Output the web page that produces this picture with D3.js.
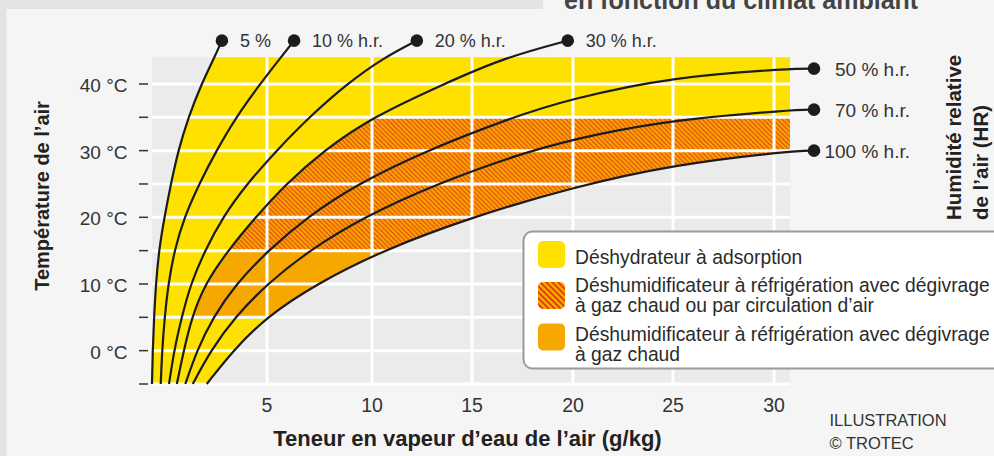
<!DOCTYPE html>
<html>
<head>
<meta charset="utf-8">
<script src="https://cdn.jsdelivr.net/npm/d3@7"></script>
<style>
  html, body { margin: 0; padding: 0; background: #f5f5f5; }
  svg { display: block; font-family: "Liberation Sans", Arial, sans-serif; }
</style>
</head>
<body>
<svg id="chart" width="994" height="456"></svg>
<script>
// each curve: [teneur en vapeur d'eau g/kg, température °C]
const rh5   = [[0.0,-5],[0.03,0],[0.09,5],[0.17,10],[0.3,15],[0.54,20],[0.82,25],[1.14,30],[1.58,35],[2.15,40],[2.7,43.9],[3.04,46.5]]
const rh10  = [[0.38,-5],[0.44,0],[0.55,5],[0.71,10],[0.97,15],[1.4,20],[2.05,25],[2.8,30],[3.65,35],[4.7,40],[5.64,43.9],[6.29,46.5]]
const rh20  = [[0.74,-5],[0.96,0],[1.29,5],[1.68,10],[2.3,15],[3.07,20],[4.12,25],[5.45,30],[7.0,35],[8.8,40],[10.57,43.9],[12.24,46.5]]
const rh30  = [[1.08,-5],[1.38,0],[1.73,5],[2.3,10],[3.3,15],[4.5,20],[5.9,25],[7.7,30],[10.0,35],[13.6,40],[16.56,43.9],[19.74,46.5]]
const rh50  = [[1.45,-5],[1.95,0],[2.65,5],[3.65,10],[5.05,15],[6.89,20],[9.3,25],[12.7,30],[17.0,35],[19.8,37.7],[25.0,41.1],[30.84,42.3],[31.98,42.3]]
const rh70  = [[1.77,-5],[2.55,0],[3.6,5],[5.0,10],[7.0,15],[9.58,20],[13.2,25],[17.8,30],[21.2,32.5],[25.0,34.6],[30.84,36.1],[31.98,36.15]]
const rh100 = [[2.38,-5],[3.52,0],[4.95,5],[7.35,10],[10.5,15],[14.95,20],[19.99,24.5],[25.0,27.9],[30.84,29.95],[31.98,30.0]]

const topCurves = [rh5, rh10, rh20, rh30]
const topLabels = ["5 %", "10 % h.r.", "20 % h.r.", "30 % h.r."]
const rightCurves = [rh50, rh70, rh100]
const rightLabels = ["50 % h.r.", "70 % h.r.", "100 % h.r."]

const xTicks = [5, 10, 15, 20, 25, 30]
const tempTicks = [-5, 0, 5, 10, 15, 20, 25, 30, 35, 40]
const tempLabels = [0, 10, 20, 30, 40]

// bands in °C
const hatchBand = [15, 35]
const orangeBand = [5, 15]

const legendLabels = [
  ["Déshydrateur à adsorption"],
  ["Déshumidificateur à réfrigération avec dégivrage", "à gaz chaud ou par circulation d’air"],
  ["Déshumidificateur à réfrigération avec dégivrage", "à gaz chaud"]
]

const yellow = "#ffe100"
const orange = "#f7a800"
const red = "#e5321c"
const ink = "#1c1c1c"

const x = d3.scaleLinear().domain([0, 5, 10, 15, 20, 25, 30]).range([152, 267, 372, 472, 573, 673, 774])
const y = d3.scaleLinear().domain([-5, 44]).range([384, 57.3])
const plot = { x0: 152, x1: 790, y0: 57.3, y1: 384 }

const svg = d3.select("#chart")

// Background
svg.append("rect").attr("width", 994).attr("height", 456).attr("fill", "#f5f5f5")
svg.append("rect").attr("width", 543).attr("height", 9).attr("fill", "#e3e3e3")
svg.append("rect").attr("width", 6.5).attr("height", 456).attr("fill", "#e3e3e3")

// title of the page, cut by the frame like in the source
svg.append("text")
    .text("en fonction du climat ambiant")
    .attr("x", 564).attr("y", 9)
    .attr("font-size", 25).attr("font-weight", "bold").attr("fill", "#444")

const defs = svg.append("defs")

function clipRect(id, t0, t1) {
  defs.append("clipPath").attr("id", id)
    .append("rect")
      .attr("x", plot.x0).attr("width", plot.x1 - plot.x0)
      .attr("y", y(t1)).attr("height", y(t0) - y(t1))
}
clipRect("clip-plot", -5, 44)
clipRect("clip-hatch", hatchBand[0], hatchBand[1])
clipRect("clip-orange", orangeBand[0], orangeBand[1])

function hatchPattern(id, s, w) {
  const p = defs.append("pattern").attr("id", id)
      .attr("patternUnits", "userSpaceOnUse")
      .attr("width", s).attr("height", s)
  p.append("rect").attr("width", s).attr("height", s).attr("fill", orange)
  p.append("path")
      .attr("d", `M0,0L${s},${s}M${-s/2},${s/2}L${s/2},${s*1.5}M${s/2},${-s/2}L${s*1.5},${s/2}`)
      .attr("stroke", red).attr("stroke-width", w)
}
hatchPattern("hatch", 4.7, 1)
hatchPattern("hatch-big", 6, 1.6)

// Plot background
svg.append("rect")
    .attr("x", plot.x0).attr("y", plot.y0)
    .attr("width", plot.x1 - plot.x0).attr("height", plot.y1 - plot.y0)
    .attr("fill", "#ebebeb")

const line = d3.line()
    .x(d => x(d[0]))
    .y(d => y(d[1]))
    .curve(d3.curveBasis)

// area between a left curve and a right curve, open to the top right
function region(left, right) {
  const far = 40, top = 50
  const last = right[right.length - 1]
  return line(left) +
    "L" + x(far) + "," + y(top) +
    "L" + x(far) + "," + y(last[1]) +
    line(right.slice().reverse()).replace(/^M/, "L") + "Z"
}

svg.append("path")
    .attr("d", region(rh5, rh100))
    .attr("fill", yellow)
    .attr("clip-path", "url(#clip-plot)")

svg.append("path")
    .attr("d", region(rh30, rh100))
    .attr("fill", "url(#hatch)")
    .attr("clip-path", "url(#clip-hatch)")

svg.append("path")
    .attr("d", region(rh30, rh100))
    .attr("fill", orange)
    .attr("clip-path", "url(#clip-orange)")

// Grid
svg.append("g").selectAll("line")
  .data(tempTicks)
  .enter().append("line")
    .attr("x1", plot.x0).attr("x2", plot.x1)
    .attr("y1", d => y(d)).attr("y2", d => y(d))
    .attr("stroke", "#fff").attr("stroke-width", 3)

svg.append("g").selectAll("line")
  .data(xTicks)
  .enter().append("line")
    .attr("x1", d => x(d)).attr("x2", d => x(d))
    .attr("y1", plot.y0).attr("y2", plot.y1)
    .attr("stroke", "#fff").attr("stroke-width", 3)

// Y ticks and labels
svg.append("g").selectAll("line")
  .data(tempTicks)
  .enter().append("line")
    .attr("x1", 139).attr("x2", 148)
    .attr("y1", d => y(d)).attr("y2", d => y(d))
    .attr("stroke", "#333").attr("stroke-width", 1.5)

svg.append("g").selectAll("text")
  .data(tempLabels)
  .enter().append("text")
    .text(d => d + " °C")
    .attr("x", 127.5).attr("y", d => y(d) + 8)
    .attr("text-anchor", "end")
    .attr("font-size", 19).attr("fill", "#333")

// X labels
svg.append("g").selectAll("text")
  .data(xTicks)
  .enter().append("text")
    .text(d => d)
    .attr("x", d => x(d)).attr("y", 411.5)
    .attr("text-anchor", "middle")
    .attr("font-size", 19.5).attr("fill", "#333")

// Axis titles
svg.append("text")
    .text("Teneur en vapeur d’eau de l’air (g/kg)")
    .attr("x", 467.5).attr("y", 446)
    .attr("text-anchor", "middle")
    .attr("font-size", 22).attr("font-weight", "bold").attr("fill", "#222")

svg.append("text")
    .text("Température de l’air")
    .attr("text-anchor", "middle")
    .attr("transform", "translate(49,196)rotate(-90)")
    .attr("font-size", 20).attr("font-weight", "bold").attr("fill", "#222")

svg.append("text")
    .text("Humidité relative")
    .attr("transform", "translate(961,220)rotate(-90)")
    .attr("font-size", 20.5).attr("font-weight", "bold").attr("fill", "#222")
svg.append("text")
    .text("de l’air (HR)")
    .attr("transform", "translate(988,220)rotate(-90)")
    .attr("font-size", 20.5).attr("font-weight", "bold").attr("fill", "#222")

// Curves
const allCurves = topCurves.concat(rightCurves)
svg.append("g").selectAll("path")
  .data(allCurves)
  .enter().append("path")
    .attr("d", line)
    .attr("fill", "none")
    .attr("stroke", ink).attr("stroke-width", 2.2)

svg.append("g").selectAll("circle")
  .data(allCurves)
  .enter().append("circle")
    .attr("cx", d => x(d[d.length - 1][0]))
    .attr("cy", d => y(d[d.length - 1][1]))
    .attr("r", 6.3)
    .attr("fill", ink)

svg.append("g").selectAll("text")
  .data(topCurves)
  .enter().append("text")
    .text((d, i) => topLabels[i])
    .attr("x", d => x(d[d.length - 1][0]) + 18)
    .attr("y", d => y(d[d.length - 1][1]) + 6.5)
    .attr("font-size", 18).attr("fill", "#333")

svg.append("g").selectAll("text")
  .data(rightCurves)
  .enter().append("text")
    .text((d, i) => rightLabels[i])
    .attr("x", 910)
    .attr("y", d => y(d[d.length - 1][1]) + 7)
    .attr("text-anchor", "end")
    .attr("font-size", 19).attr("fill", "#333")

// Legend
svg.append("rect")
    .attr("x", 523.5).attr("y", 231.5)
    .attr("width", 480).attr("height", 137)
    .attr("rx", 9)
    .attr("fill", "#fff").attr("stroke", "#9a9a9a").attr("stroke-width", 2)

const swatchFill = [yellow, "url(#hatch-big)", orange]
const swatchY = [241, 282, 323.5]
const textY = [263.5, 291.5, 340.5]

legendLabels.forEach((lines, i) => {
  svg.append("rect")
      .attr("x", 538).attr("y", swatchY[i])
      .attr("width", 27).attr("height", 27).attr("rx", 5)
      .attr("fill", swatchFill[i])
  lines.forEach((t, j) => {
    svg.append("text")
        .text(t)
        .attr("x", 575).attr("y", textY[i] + j * 20)
        .attr("font-size", 19.3).attr("fill", "#2b2b2b")
  })
})

// Credit
svg.append("text").text("ILLUSTRATION")
    .attr("x", 829.5).attr("y", 426)
    .attr("font-size", 16.5).attr("fill", "#333")
svg.append("text").text("© TROTEC")
    .attr("x", 829.5).attr("y", 448.5)
    .attr("font-size", 16.5).attr("fill", "#333")
</script>
</body>
</html>
